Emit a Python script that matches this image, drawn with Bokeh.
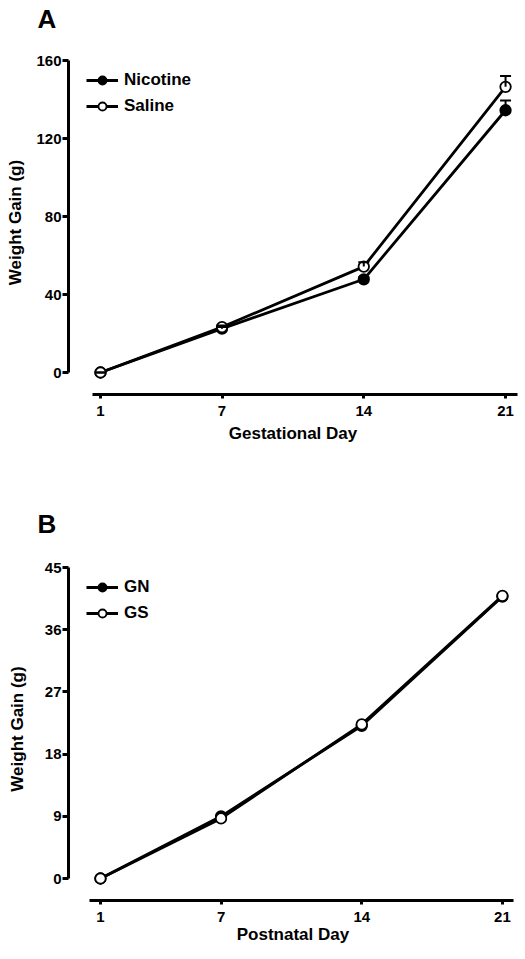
from bokeh.plotting import figure
from bokeh.models import (ColumnDataSource, Whisker, TeeHead, Legend, LegendItem,
                          LinearAxis, FixedTicker, Range1d, Title)
from bokeh.layouts import column
from bokeh.embed import file_html
from bokeh.resources import INLINE

# ---------------- data ----------------
days = [1, 7, 14, 21]

# Panel A: gestational weight gain (g)
nicotine_mean = [0, 22.5, 47.8, 134.5]
nicotine_sem = [0, 0.8, 1.0, 5.0]
saline_mean = [0, 23.3, 54.3, 146.5]
saline_sem = [0, 0.8, 2.3, 5.5]

# Panel B: postnatal weight gain (g)
gn_mean = [0, 9.0, 22.1, 40.8]
gs_mean = [0, 8.7, 22.3, 40.9]

a_yticks = [0, 40, 80, 120, 160]
b_yticks = [0, 9, 18, 27, 36, 45]

FONT = "Liberation Sans"


def make_panel(letter, xlab, ylab, x_range, x_bounds, y_range, y_bounds, yticks,
               series, height, top, frame_h, ylab_standoff, xlab_standoff, spacer_standoff):
    p = figure(width=525, height=height, output_backend="svg", toolbar_location=None,
               x_range=Range1d(*x_range), y_range=Range1d(*y_range),
               x_axis_type=None, y_axis_type=None,
               min_border_left=68, min_border_right=8, min_border_top=top,
               min_border_bottom=height - top - frame_h)
    p.outline_line_color = None
    p.xgrid.visible = False
    p.ygrid.visible = False
    p.background_fill_color = "white"
    p.border_fill_color = "white"

    xa = LinearAxis(ticker=FixedTicker(ticks=days), bounds=x_bounds, axis_label=xlab)
    ya = LinearAxis(ticker=FixedTicker(ticks=yticks), bounds=y_bounds, axis_label=ylab)
    for ax in (xa, ya):
        ax.axis_line_width = 3
        ax.major_tick_line_width = 3
        ax.major_tick_in = 0
        ax.minor_tick_line_color = None
        ax.major_label_text_font = FONT
        ax.major_label_text_font_style = "bold"
        ax.major_label_text_font_size = "15px"
        ax.axis_label_text_font = FONT
        ax.axis_label_text_font_style = "bold"
        ax.axis_label_text_font_size = "17px"
        ax.axis_label_text_color = "black"
        ax.major_label_text_color = "black"
    xa.major_tick_out = 4
    xa.major_label_standoff = 7
    xa.axis_label_standoff = xlab_standoff
    ya.major_tick_out = 6
    ya.major_label_standoff = 1
    ya.axis_label_standoff = ylab_standoff
    p.add_layout(xa, "below")
    p.add_layout(ya, "left")

    # blank spacer (closest to the frame) pushes the panel letter upward
    p.add_layout(Title(text=" ", text_font=FONT, text_font_size="10px",
                       standoff=spacer_standoff), "above")
    p.add_layout(Title(text=letter, text_font=FONT, text_font_style="bold",
                       text_font_size="26px", text_color="black",
                       align="left", vertical_align="bottom",
                       offset=-31, standoff=0), "above")

    items = []
    for label, mean, sem, fill in series:
        src = ColumnDataSource(dict(x=days, y=mean,
                                    lower=mean,
                                    upper=[m + s for m, s in zip(mean, sem)]))
        ln = p.line("x", "y", source=src, line_color="black", line_width=2.8)
        if any(s > 0 for s in sem):
            w = Whisker(base="x", lower="lower", upper="upper", source=src,
                        line_color="black", line_width=2,
                        upper_head=TeeHead(size=11, line_width=2, line_color="black"),
                        lower_head=None, level="glyph")
            p.add_layout(w)
        sc = p.scatter("x", "y", source=src, marker="circle", size=10.5,
                       fill_color=fill, line_color="black", line_width=1.8)
        items.append(LegendItem(label=label, renderers=[ln, sc]))

    leg = Legend(items=items, location=(18, frame_h - 66), glyph_width=32, glyph_height=20,
                 label_standoff=6, spacing=6, padding=0, margin=0,
                 border_line_color=None, background_fill_alpha=0,
                 label_text_font=FONT, label_text_font_style="bold",
                 label_text_font_size="17px", label_text_color="black")
    p.add_layout(leg)
    return p


pA = make_panel("A", "Gestational Day", "Weight Gain (g)",
                (-0.58, 21.59), (0.6, 21.6), (-11.28, 165.13), (0, 160), a_yticks,
                [("Nicotine", nicotine_mean, nicotine_sem, "black"),
                 ("Saline", saline_mean, saline_sem, "white")],
                height=505, top=50, frame_h=344, ylab_standoff=8, xlab_standoff=5,
                spacer_standoff=4)

pB = make_panel("B", "Postnatal Day", "Weight Gain (g)",
                (-0.59, 21.75), (0.45, 21.55), (-3.18, 46.45), (0, 45), b_yticks,
                [("GN", gn_mean, [0, 0, 0, 0], "black"),
                 ("GS", gs_mean, [0, 0, 0, 0], "white")],
                height=454, top=52, frame_h=343, ylab_standoff=15, xlab_standoff=0,
                spacer_standoff=6)

layout = column(pA, pB, spacing=0)
open("out.html", "w").write(file_html(layout, INLINE))
